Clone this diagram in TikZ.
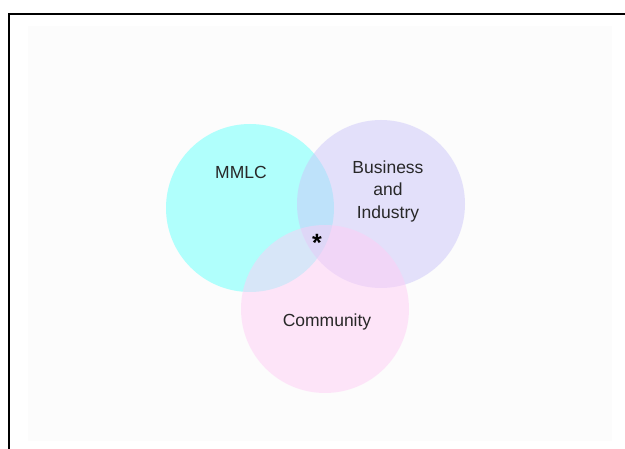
\documentclass[tikz,border=0pt]{standalone}
\usepackage{fontspec}
\setmainfont{Liberation Sans}
\usepackage{xcolor}
\usetikzlibrary{shapes,positioning}

\definecolor{mmlcfill}{RGB}{176,255,252}
\definecolor{bizfill}{RGB}{204,198,250}
\definecolor{comfill}{RGB}{255,206,246}
\definecolor{txtgray}{RGB}{40,40,40}

\tikzset{
	venn/.style={circle, minimum size=168pt, inner sep=0pt},
	vlabel/.style={font=\fontsize{17.5}{22.5}\selectfont, text=txtgray, align=center, inner sep=0pt}
}

\begin{document}
\begin{tikzpicture}[x=1pt,y=-1pt]
			\useasboundingbox (0,0) rectangle (625,449);
			\fill[white] (0,0) rectangle (625,449);
			\fill[black!1.2] (28,26) rectangle (612,441);
			\draw[line width=2pt] (8.5,449) -- (8.5,14) -- (625,14);
			
			% the three circles
			\node[venn, fill=mmlcfill] (MMLC) at (250,208) {};
			\node[venn, fill=bizfill, fill opacity=0.5] (Biz) at (381,204) {};
			\node[venn, fill=comfill, fill opacity=0.5] (Com) at (325,309) {};
			
			% labels
			\node[vlabel] (MMLCtxt) at (241,172) {MMLC};
			\node[vlabel] (Biztxt) at (388,191) {Business\\and\\Industry};
			\node[vlabel] (Comtxt) at (327,322) {Community};
			\node[font=\fontsize{25}{25}\bfseries, inner sep=0pt] (Star) at (317,243) {*};
		\end{tikzpicture}
\end{document}
